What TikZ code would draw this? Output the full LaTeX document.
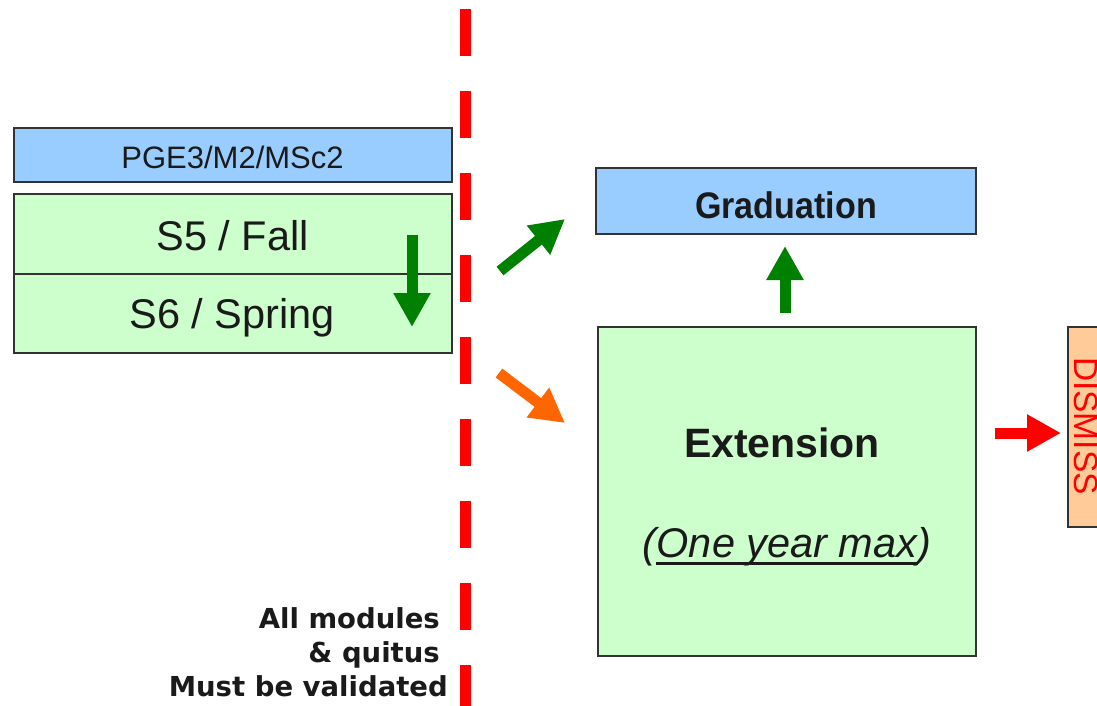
\documentclass[tikz,border=0pt]{standalone}
\usepackage{fontspec}
\setmainfont{Liberation Sans}
\newfontfamily\verd{DejaVu Sans}
\usetikzlibrary{arrows.meta}
\definecolor{boxblue}{HTML}{99CCFF}
\definecolor{boxgreen}{HTML}{CCFFCC}
\definecolor{boxpeach}{HTML}{FFCC99}
\definecolor{arrgreen}{HTML}{008000}
\definecolor{arrorange}{HTML}{FF6600}
\definecolor{edge}{HTML}{333333}
\definecolor{txt}{HTML}{1A1A1A}
\tikzset{
  panel/.style={draw=edge, line width=1.5pt},
  lbl/.style={inner sep=0pt, anchor=base, text=txt},
  blockarrow/.style={line width=11pt, -{Triangle[length=34pt,width=35pt]}},
}
\begin{document}
\begin{tikzpicture}[x=1pt,y=-1pt]
\clip (0,0) rectangle (1097,705);
\fill[white] (0,0) rectangle (1097,705);
% left boxes
\draw[panel, fill=boxblue] (14,128) rectangle (452,182);
\draw[panel, fill=boxgreen] (14,194) rectangle (452,353);
\draw[panel] (14,274) -- (452,274);
\node[lbl] (pge) at (232.5,168) {\fontsize{31}{31}\selectfont PGE3/M2/MSc2};
\node[lbl] (s5) at (232.5,250) {\fontsize{41.5}{41.5}\selectfont S5 / Fall};
\node[lbl] (s6) at (232,328) {\fontsize{41.5}{41.5}\selectfont S6 / Spring};
% dashed red line
\coordinate (dtop) at (465,9);
\coordinate (dbot) at (465,720);
\draw[red, line width=11pt, dash pattern=on 47pt off 35pt] (dtop) -- (dbot);
% graduation
\draw[panel, fill=boxblue] (596,168) rectangle (976,234);
\node[lbl, xscale=0.92] (grad) at (786,218) {\fontsize{37}{37}\selectfont\bfseries Graduation};
% extension
\draw[panel, fill=boxgreen] (598,327) rectangle (976,656);
\node[lbl] (ext) at (782,457) {\fontsize{41}{41}\selectfont\bfseries Extension};
\node[lbl] (oym) at (787,557) {\fontsize{41.5}{41.5}\selectfont\itshape One year max};
\node[lbl, anchor=base east] (lp) at (oym.base west) {\fontsize{41.5}{41.5}\selectfont\itshape (};
\node[lbl, anchor=base west] (rp) at (oym.base east) {\fontsize{41.5}{41.5}\selectfont\itshape )};
\draw[txt, line width=3pt] ([yshift=-6pt]oym.base west) -- ([yshift=-6pt]oym.base east);
% dismiss
\draw[panel, fill=boxpeach] (1068,327) rectangle (1110,527);
\node[inner sep=0pt, anchor=base, rotate=-90, text=red] (dis) at (1074,426) {\fontsize{33.5}{33.5}\selectfont DISMISS};
% arrows
\coordinate (dA) at (412,235); \coordinate (dB) at (412,327);
\draw[blockarrow, arrgreen] (dA) -- (dB);
\coordinate (gA) at (500,271); \coordinate (gB) at (565,219);
\draw[blockarrow, arrgreen] (gA) -- (gB);
\coordinate (oA) at (499,373); \coordinate (oB) at (565,423);
\draw[blockarrow, arrorange] (oA) -- (oB);
\coordinate (uA) at (785,313); \coordinate (uB) at (785,246);
\draw[blockarrow, arrgreen] (uA) -- (uB);
\coordinate (rA) at (995,433); \coordinate (rB) at (1061,433);
\draw[blockarrow, red] (rA) -- (rB);
% bottom note
\node[lbl, anchor=base east] (n1) at (440,628) {\verd\fontsize{27.5}{27.5}\selectfont\bfseries All modules};
\node[lbl, anchor=base east] (n2) at (440,662) {\verd\fontsize{27.5}{27.5}\selectfont\bfseries \& quitus};
\node[lbl, anchor=base east] (n3) at (448,696) {\verd\fontsize{27.5}{27.5}\selectfont\bfseries Must be validated};
\end{tikzpicture}
\end{document}
